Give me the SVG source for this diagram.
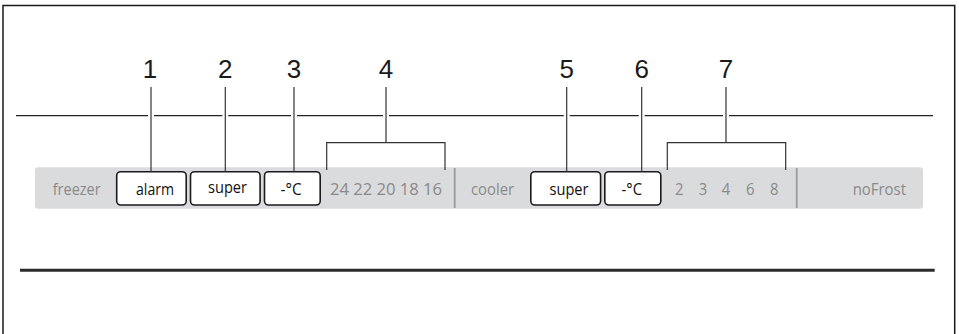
<svg xmlns="http://www.w3.org/2000/svg" width="959" height="334" viewBox="0 0 959 334">
<style>
.frame{fill:none;stroke:#1a1a1a;stroke-width:1.5}
.rule{stroke:#222;stroke-width:1.3;fill:none}
.thick{stroke:#2b2b2b;stroke-width:3;fill:none}
.bar{fill:#dadbdc}
.sep{stroke:#9a9a9a;stroke-width:1.8}
.btn{fill:#fff;stroke:#1a1a1a;stroke-width:1.6}
.btxt{font-family:"Open Sans","Noto Sans",sans-serif;font-size:17px;fill:#111}
.gtxt{font-family:"Open Sans","Noto Sans",sans-serif;font-size:17px;fill:#8a8a8a}
.num{font-family:"Liberation Sans",Arial,sans-serif;font-size:26px;fill:#1a1a1a;text-anchor:middle}
.lead{stroke:#333;stroke-width:1.2;fill:none}
.halo{stroke:#fff;stroke-width:6;fill:none}
</style>
<rect x="0" y="0" width="959" height="334" fill="#fff"/>
<path class="frame" d="M3,340 V5.5 H954.7 V340"/>
<line class="rule" x1="16" y1="115.7" x2="933" y2="115.7"/>
<line class="thick" x1="20" y1="270.3" x2="934.7" y2="270.3"/>

<g id="panel">
  <rect class="bar" x="35" y="167.3" width="888" height="41.4" rx="3"/>
  <line class="sep" x1="454.7" y1="168" x2="454.7" y2="208"/>
  <line class="sep" x1="796.7" y1="168" x2="796.7" y2="208"/>
</g>

<g id="label-freezer"><text class="gtxt" x="52.7" y="195" textLength="48" lengthAdjust="spacingAndGlyphs">freezer</text></g>
<g id="btn-alarm">
  <rect class="btn" x="116.7" y="171.7" width="69.5" height="33.3" rx="4"/>
  <text class="btxt" x="136" y="195" textLength="38" lengthAdjust="spacingAndGlyphs">alarm</text>
</g>
<g id="btn-super-freezer">
  <rect class="btn" x="190.5" y="171.7" width="69.6" height="33.3" rx="4"/>
  <text class="btxt" x="208" y="192.5" textLength="39" lengthAdjust="spacingAndGlyphs">super</text>
</g>
<g id="btn-degc-freezer">
  <rect class="btn" x="264.5" y="171.7" width="55.7" height="33.3" rx="4"/>
  <text class="btxt" x="280.5" y="195" textLength="21" lengthAdjust="spacingAndGlyphs">-°C</text>
</g>
<g id="scale-freezer"><text class="gtxt" x="330" y="195" textLength="112" lengthAdjust="spacingAndGlyphs">24 22 20 18 16</text></g>
<g id="label-cooler"><text class="gtxt" x="471" y="195" textLength="43" lengthAdjust="spacingAndGlyphs">cooler</text></g>
<g id="btn-super-cooler">
  <rect class="btn" x="530.8" y="171.7" width="69.8" height="33.3" rx="4"/>
  <text class="btxt" x="549.5" y="195" textLength="39" lengthAdjust="spacingAndGlyphs">super</text>
</g>
<g id="btn-degc-cooler">
  <rect class="btn" x="604.8" y="171.7" width="56" height="33.3" rx="4"/>
  <text class="btxt" x="621.5" y="195" textLength="20.5" lengthAdjust="spacingAndGlyphs">-°C</text>
</g>
<g id="scale-cooler" class="gtxt">
  <text x="675" y="195" textLength="8.5" lengthAdjust="spacingAndGlyphs">2</text>
  <text x="698.8" y="195" textLength="8.5" lengthAdjust="spacingAndGlyphs">3</text>
  <text x="721.8" y="195" textLength="8.5" lengthAdjust="spacingAndGlyphs">4</text>
  <text x="746" y="195" textLength="8.5" lengthAdjust="spacingAndGlyphs">6</text>
  <text x="770" y="195" textLength="8.5" lengthAdjust="spacingAndGlyphs">8</text>
</g>
<g id="label-nofrost"><text class="gtxt" x="852.7" y="195" textLength="53.3" lengthAdjust="spacingAndGlyphs">noFrost</text></g>

<g id="connectors">
  <g class="halo">
    <line x1="151" y1="110" x2="151" y2="121"/>
    <line x1="225.3" y1="110" x2="225.3" y2="121"/>
    <line x1="294" y1="110" x2="294" y2="121"/>
    <line x1="386" y1="110" x2="386" y2="121"/>
    <line x1="566.7" y1="110" x2="566.7" y2="121"/>
    <line x1="641.7" y1="110" x2="641.7" y2="121"/>
    <line x1="726" y1="110" x2="726" y2="121"/>
  </g>
  <g class="lead">
    <line x1="151" y1="87" x2="151" y2="171.7"/>
    <line x1="225.3" y1="87" x2="225.3" y2="171.7"/>
    <line x1="294" y1="87" x2="294" y2="171.7"/>
    <line x1="566.7" y1="87" x2="566.7" y2="171.7"/>
    <line x1="641.7" y1="87" x2="641.7" y2="171.7"/>
    <line x1="386" y1="87" x2="386" y2="142.7"/>
    <path d="M326.7,170 V142.7 H445 V170"/>
    <line x1="726" y1="87" x2="726" y2="142.7"/>
    <path d="M667.3,170 V142.7 H785.7 V170"/>
  </g>
</g>

<g id="callout-1"><text class="num" x="150" y="78.3">1</text></g>
<g id="callout-2"><text class="num" x="225.3" y="78.3">2</text></g>
<g id="callout-3"><text class="num" x="294" y="78.3">3</text></g>
<g id="callout-4"><text class="num" x="386" y="78.3">4</text></g>
<g id="callout-5"><text class="num" x="566.7" y="78.3">5</text></g>
<g id="callout-6"><text class="num" x="641.7" y="78.3">6</text></g>
<g id="callout-7"><text class="num" x="726" y="78.3">7</text></g>
</svg>
